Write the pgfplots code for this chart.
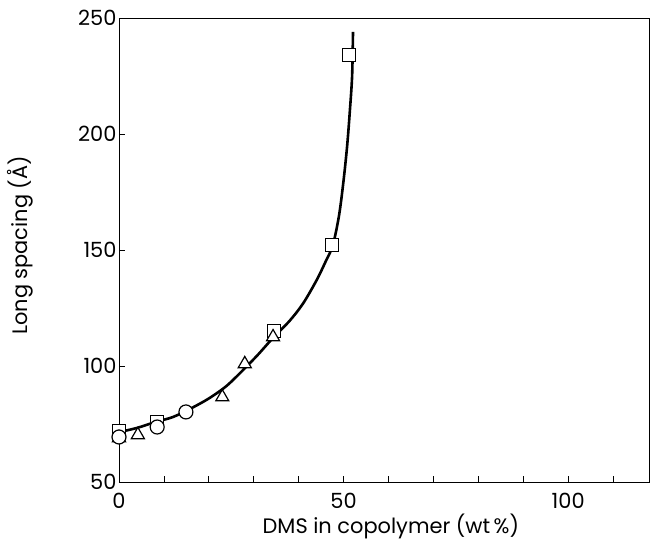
\documentclass[border=0pt]{standalone}
\usepackage{fontspec}
\setmainfont{Poppins}
\usepackage{pgfplots}
\pgfplotsset{compat=1.18}

\begin{document}
\begin{tikzpicture}
\begin{axis}[
  scale only axis, width=530bp, height=464bp,
  xmin=0, xmax=118, ymin=50, ymax=250,
  xtick={0,10,...,110}, xticklabels={0,,,,,50,,,,,100,},
  ytick={50,100,...,250},
  tick align=inside, xtick pos=bottom, ytick pos=left,
  major tick length=6bp,
  tick style={black, line width=0.8bp},
  axis line style={line width=0.9bp},
  font=\fontsize{21}{25}\selectfont,
  /pgf/number format/assume math mode=true,
  xticklabel style={yshift=-8bp},
  yticklabel style={xshift=1bp},
  xlabel={DMS in copolymer (wt\,\%)},
  ylabel={Long spacing (Å)},
  xlabel style={at={(rel axis cs:0.513,0)}, anchor=base, yshift=-51bp},
  ylabel style={at={(axis description cs:-0.172,0.51)}, anchor=base},
  clip=false,
]
% fitted curve
\addplot[black, line width=2.6bp, smooth, tension=0.5] coordinates {
  (0,71.5) (4,73.3) (8,75.8) (12,78) (16,81.7) (20,86) (24,91.5) (28,99)
  (31,105) (34,111.5) (38,119.5) (41,127) (44,137) (46,145) (47.6,152)
  (49,165) (50,180) (50.8,195) (51.4,210) (51.9,225) (52.1,244)
};
% squares
\addplot[only marks, mark=square*, mark size=6.5bp,
  mark options={fill=white, draw=black, line width=1.2bp}] coordinates {
  (0,72) (8.5,76) (34.5,115) (47.5,152) (51.2,234)
};
% triangles
\addplot[only marks, mark=triangle*, mark size=7.5bp,
  mark options={fill=white, draw=black, line width=1.2bp}] coordinates {
  (0,69) (4.2,70.3) (23,86.6) (28,100.9) (34.3,112.5)
};
% circles
\addplot[only marks, mark=*, mark size=7bp,
  mark options={fill=white, draw=black, line width=1.2bp}] coordinates {
  (0,69.4) (8.5,73.7) (14.9,80.2)
};
\coordinate (bl) at (rel axis cs:0,0);
\coordinate (tr) at (rel axis cs:1,1);
\end{axis}
\pgfresetboundingbox
\path ([shift={(-119bp,-59bp)}]bl) rectangle ([shift={(1bp,18bp)}]tr);
\end{tikzpicture}
\end{document}
